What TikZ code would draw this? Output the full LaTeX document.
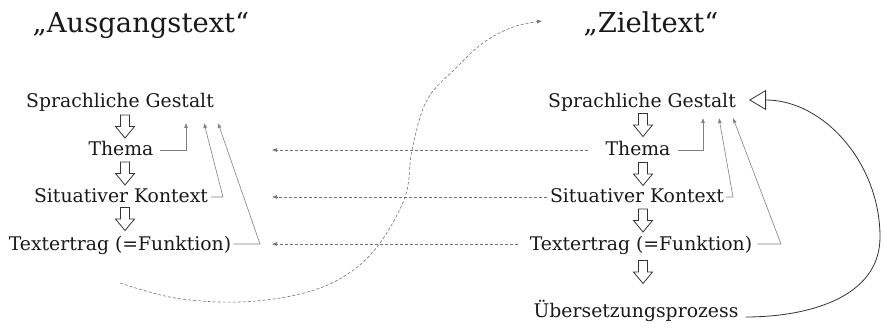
\documentclass[tikz,border=0pt]{standalone}
\usepackage{fontspec}
\setmainfont{DejaVu Serif}
\usetikzlibrary{arrows.meta}
\begin{document}
\begin{tikzpicture}[x=1pt,y=-1pt,
  txt/.style={font=\fontsize{18.8}{22}\selectfont, text=black!90, inner sep=0pt, text height=12pt, text depth=0pt, anchor=base},
  ttl/.style={font=\fontsize{27.4}{32}\selectfont, text=black!90, inner sep=0pt, anchor=base},
  feed/.style={draw=black!50, line width=0.6pt, -{Latex[length=5pt,width=4pt]}},
  dsh/.style={draw=black!55, line width=0.6pt, dash pattern=on 3pt off 2pt, -{Latex[length=5pt,width=4pt]}},
  loop/.style={draw=black!80, line width=0.8pt, -{Triangle[open, length=17pt, width=20pt, fill=white]}},
  harrow/.pic={\draw[black!80, line width=0.8pt, line join=miter] (-4.5,-11.5) -- (4.5,-11.5) -- (4.5,0) -- (9.5,0) -- (0,11.5) -- (-9.5,0) -- (-4.5,0) -- cycle;}
]
\useasboundingbox (0,0) rectangle (883,331);

% titles
\node[ttl] (TA) at (141,33) {„Ausgangstext“};
\node[ttl] (TZ) at (651,33) {„Zieltext“};

% left column
\node[txt] (LS) at (120,108) {Sprachliche Gestalt};
\node[txt] (LT) at (121,156) {Thema};
\node[txt] (LK) at (121,203) {Situativer Kontext};
\node[txt] (LF) at (120,250) {Textertrag (=Funktion)};
\pic (LA1) at (125,126.5) {harrow};
\pic (LA2) at (125,173.5) {harrow};
\pic (LA3) at (125,219) {harrow};

% right column
\node[txt] (RS) at (642,108) {Sprachliche Gestalt};
\node[txt] (RT) at (638,156) {Thema};
\node[txt] (RK) at (637,203) {Situativer Kontext};
\node[txt] (RF) at (641,250) {Textertrag (=Funktion)};
\node[txt] (RU) at (636,317) {Übersetzungsprozess};
\pic (RA1) at (643,125) {harrow};
\pic (RA2) at (643,174) {harrow};
\pic (RA3) at (643,220.5) {harrow};
\pic (RA4) at (643,272) {harrow};

% left feedback arrows
\coordinate (lt1) at (186,123);
\coordinate (lt2) at (204,123);
\coordinate (lt3) at (218,123);
\coordinate (lk2) at (223,197);
\coordinate (lf2) at (260,244);
\draw[feed] ([xshift=6pt]LT.east) -| (lt1);
\draw[feed] ([xshift=3pt]LK.east) -- (lk2) -- (lt2);
\draw[feed] ([xshift=2pt]LF.east) -- (lf2) -- (lt3);

% right feedback arrows
\coordinate (rt1) at (703,118);
\coordinate (rt2) at (719,118);
\coordinate (rt3) at (733,118);
\coordinate (rk2) at (733,197);
\coordinate (rf2) at (781,244);
\draw[feed] ([xshift=7pt]RT.east) -| (rt1);
\draw[feed] ([xshift=2pt]RK.east) -- (rk2) -- (rt2);
\draw[feed] ([xshift=5pt]RF.east) -- (rf2) -- (rt3);

% dashed arrows right -> left
\coordinate (dl1) at (272,150);
\coordinate (dl2) at (272,197);
\coordinate (dl3) at (272,244);
\draw[dsh] ([xshift=-17pt]RT.west) -- (dl1);
\draw[dsh] ([xshift=-3pt]RK.west) -- (dl2);
\draw[dsh] ([xshift=-12pt]RF.west) -- (dl3);

% dashed S-curve
\coordinate (s0) at (120,283);
\coordinate (s1) at (542,21);
\draw[dsh] plot[smooth, tension=0.6] coordinates {(s0) (175,298) (240,302) (300,294) (343,277) (377,247) (405,197) (412,150) (427,100) (457,67) (483,43) (513,27) (s1)};

% loop back
\coordinate (lp) at (880,237);
\coordinate (lt) at (749,100);
\draw[loop] ([xshift=7pt,yshift=-6pt]RU.east) to[out=0,in=-90] (lp) to[out=90,in=0] (lt);
\end{tikzpicture}
\end{document}
